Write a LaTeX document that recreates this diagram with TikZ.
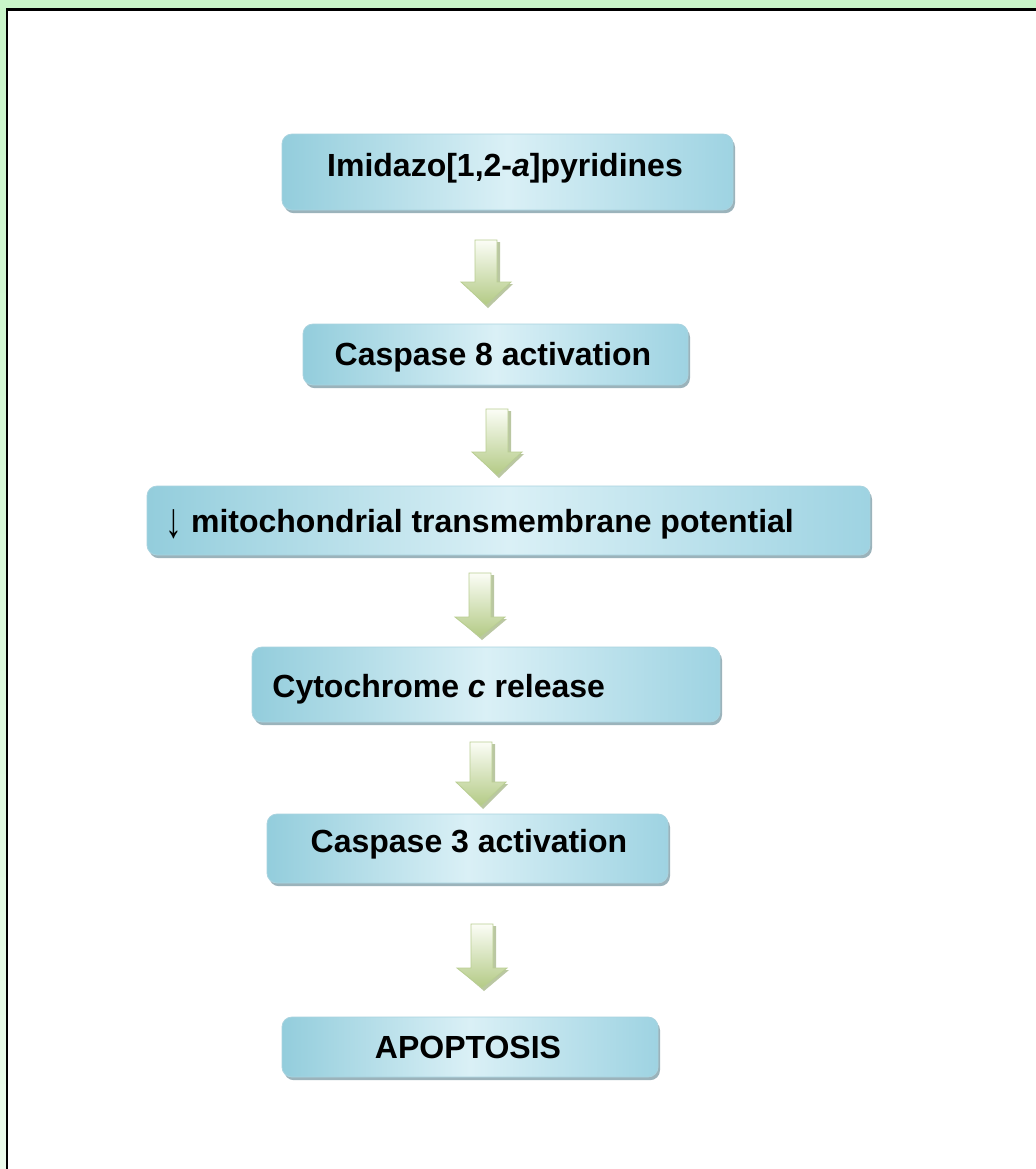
\documentclass[tikz,border=0pt]{standalone}
\usepackage{fontspec}
\setmainfont{Liberation Sans}
\usetikzlibrary{shadows}
\definecolor{frameTop}{HTML}{C9F5C9}
\definecolor{frameBot}{HTML}{EBFBEB}
\definecolor{boxEdge}{HTML}{93CDDC}
\definecolor{boxMid}{HTML}{DAF0F6}
\definecolor{boxEdgeR}{HTML}{9ED3E2}
\definecolor{boxLine}{HTML}{A9D3DF}
\definecolor{boxShadow}{HTML}{8AA6B0}
\definecolor{arrTop}{HTML}{FBFDF6}
\definecolor{arrBot}{HTML}{B3CA85}
\definecolor{arrLine}{HTML}{B9CE92}
\definecolor{arrShadow}{HTML}{A4B584}
\newcommand\flowbox[5]{%
  \node[box, minimum width={(#4-#2)*0.5pt}, minimum height={(#5-#3)*0.5pt}]
    (#1) at ({(#2+#4)/2},{(#3+#5)/2}) {};}
\newcommand\blockarr[5]{% name, cx, top, head start, tip
  \fill[arrShadow, opacity=0.75]
    ({#2-9},{#3+2}) -- ({#2+14},{#3+2}) -- ({#2+14},{#4+2}) -- ({#2+27},{#4+2})
    -- ({#2+2},{#5+3}) -- ({#2-22},{#4+2}) -- ({#2-9},{#4+2}) -- cycle;
  \path[top color=arrTop, bottom color=arrBot, draw=arrLine, line width=0.4pt]
    ({#2-11},#3) -- ({#2+11},#3) -- ({#2+11},#4) -- ({#2+25},#4)
    -- (#2,#5) -- ({#2-25},#4) -- ({#2-11},#4) -- cycle;
  \coordinate (#1) at (#2,#3);}
\begin{document}
\begin{tikzpicture}[x=0.5pt,y=-0.5pt,
  box/.style={rounded corners=5pt, inner sep=0pt, left color=boxEdge,
    right color=boxEdgeR, middle color=boxMid, draw=boxLine, line width=0.4pt,
    drop shadow={shadow xshift=1pt, shadow yshift=-1.6pt, fill=boxShadow, opacity=0.85}},
  lab/.style={font=\fontsize{16}{19}\selectfont\bfseries, inner sep=0pt, text=black}]
\useasboundingbox (0,0) rectangle (1036,1169);
% frame
\path[top color=frameTop, bottom color=frameBot] (0,0) rectangle (1036,1169);
\fill[white] (7,9.5) rectangle (1036,1169);
\draw[black, line width=1.1pt] (7,1169) -- (7,9.5) -- (1036,9.5);
% boxes
\flowbox{b1}{282}{134}{733}{210}
\flowbox{b2}{303}{324}{688}{385}
\flowbox{b3}{147}{486}{870}{555}
\flowbox{b4}{252}{647}{720}{722}
\flowbox{b5}{267}{814}{668}{883}
\flowbox{b6}{282}{1017}{658}{1077}
% texts
\node[lab, anchor=base] (t1) at (505,176) {Imidazo[1,2-\textit{a}]pyridines};
\node[lab, anchor=base] (t2) at (493,365) {Caspase 8 activation};
\node[lab, anchor=base west] (t3) at (165,532) {\raisebox{-2.5pt}{\mdseries\scalebox{1.05}[1.55]{↓}} mitochondrial transmembrane potential};
\node[lab, anchor=base west] (t4) at (272,697) {Cytochrome \textit{c} release};
\node[lab, anchor=base] (t5) at (469,852) {Caspase 3 activation};
\node[lab, anchor=base] (t6) at (468,1058) {APOPTOSIS};
% block arrows
\blockarr{a1}{486}{240}{282}{305}
\blockarr{a2}{497}{409}{452}{475}
\blockarr{a3}{480}{573}{617}{637}
\blockarr{a4}{481}{742}{782}{806}
\blockarr{a5}{482}{924}{968}{988}
\end{tikzpicture}
\end{document}
